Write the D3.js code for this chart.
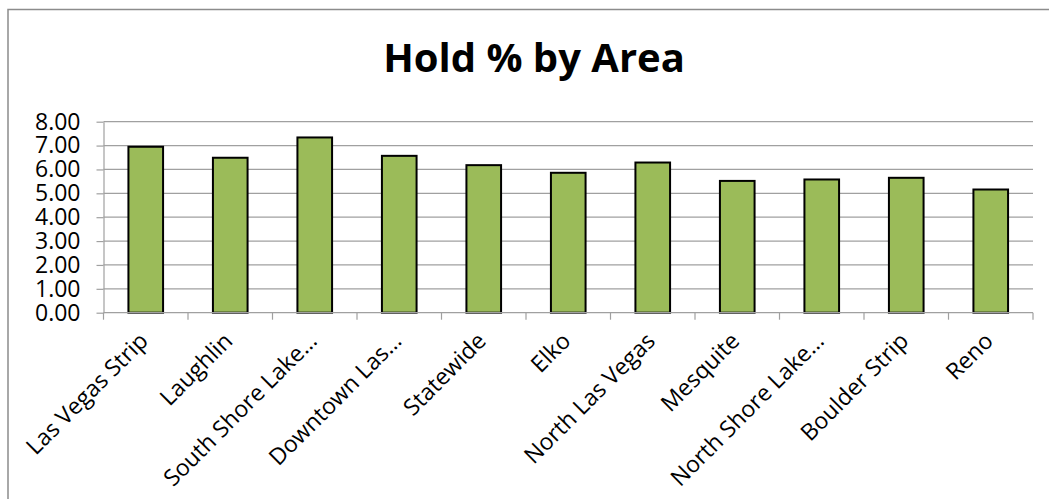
<!DOCTYPE html>
<html>
<head>
  <script src="https://d3js.org/d3.v7.min.js"></script>
  <style>
    body { margin: 0; background: #ffffff; }
    svg { display: block; }
    .grid line { stroke: #a0a0a0; stroke-width: 1.2; }
    .axis path, .axis line { stroke: #a0a0a0; stroke-width: 1.2; }
    .axis text { font-family: "Open Sans", sans-serif; font-size: 23px; fill: #000; }
    .xlab { font-size: 22px; }
    .bar { fill: #9bbb59; stroke: #000; stroke-width: 2; }
    .title { font-family: "Open Sans", sans-serif; font-weight: bold; font-size: 40px; }
  </style>
</head>
<body>
<script>
var areas = ["Las Vegas Strip", "Laughlin", "South Shore Lake\u2026", "Downtown Las\u2026", "Statewide",
  "Elko", "North Las Vegas", "Mesquite", "North Shore Lake\u2026", "Boulder Strip", "Reno"];
var holdPct = [6.95, 6.49, 7.34, 6.57, 6.18, 5.86, 6.29, 5.52, 5.58, 5.65, 5.16];
var yTicks = [0, 1, 2, 3, 4, 5, 6, 7, 8];

var width = 1049, height = 499;
var plotL = 103.5, plotR = 1033, plotT = 121.7, plotB = 312.7;

var svg = d3.select("body").append("svg")
  .attr("width", width).attr("height", height);

svg.append("rect")
  .attr("x", 8).attr("y", 9.5)
  .attr("width", width + 20).attr("height", height + 20)
  .attr("fill", "none").attr("stroke", "#8c8c8c").attr("stroke-width", 1.5);

svg.append("text")
  .attr("class", "title")
  .attr("x", 534).attr("y", 72)
  .attr("text-anchor", "middle")
  .text("Hold % by Area");

var x = d3.scaleBand().domain(areas).range([plotL, plotR]).paddingInner(0.59).paddingOuter(0.295);
var xOuter = d3.scaleBand().domain(areas).range([plotL, plotR]);
var y = d3.scaleLinear().domain([0, 8]).range([plotB, plotT]);

svg.append("g").attr("class", "grid")
  .selectAll("line")
  .data(yTicks.slice(1))
  .enter().append("line")
  .attr("x1", plotL).attr("x2", plotR)
  .attr("y1", d => y(d)).attr("y2", d => y(d));

svg.append("g").attr("class", "axis")
  .attr("transform", "translate(" + plotL + ",0)")
  .call(d3.axisLeft(y).tickValues(yTicks).tickFormat(d3.format(".2f")).tickSize(7).tickSizeOuter(0).tickPadding(16));

svg.selectAll(".bar")
  .data(holdPct)
  .enter().append("rect")
  .attr("class", "bar")
  .attr("x", (d, i) => x(areas[i]))
  .attr("width", x.bandwidth())
  .attr("y", d => y(d))
  .attr("height", d => y(0) - y(d));

// x axis line with ticks at category boundaries
var xg = svg.append("g").attr("class", "axis");
xg.append("line").attr("x1", plotL).attr("x2", plotR).attr("y1", plotB).attr("y2", plotB);
xg.selectAll(".xt")
  .data(areas.concat(["end"]))
  .enter().append("line")
  .attr("x1", (d, i) => plotL + i * xOuter.bandwidth())
  .attr("x2", (d, i) => plotL + i * xOuter.bandwidth())
  .attr("y1", plotB).attr("y2", plotB + 7);

xg.selectAll(".xl")
  .data(areas)
  .enter().append("text")
  .attr("class", "xlab")
  .attr("text-anchor", "end")
  .attr("transform", d => "translate(" + (xOuter(d) + xOuter.bandwidth() / 2 - 2) + "," + (plotB + 24) + ") rotate(-45)")
  .attr("dy", "0.35em")
  .text(d => d);
</script>
</body>
</html>
